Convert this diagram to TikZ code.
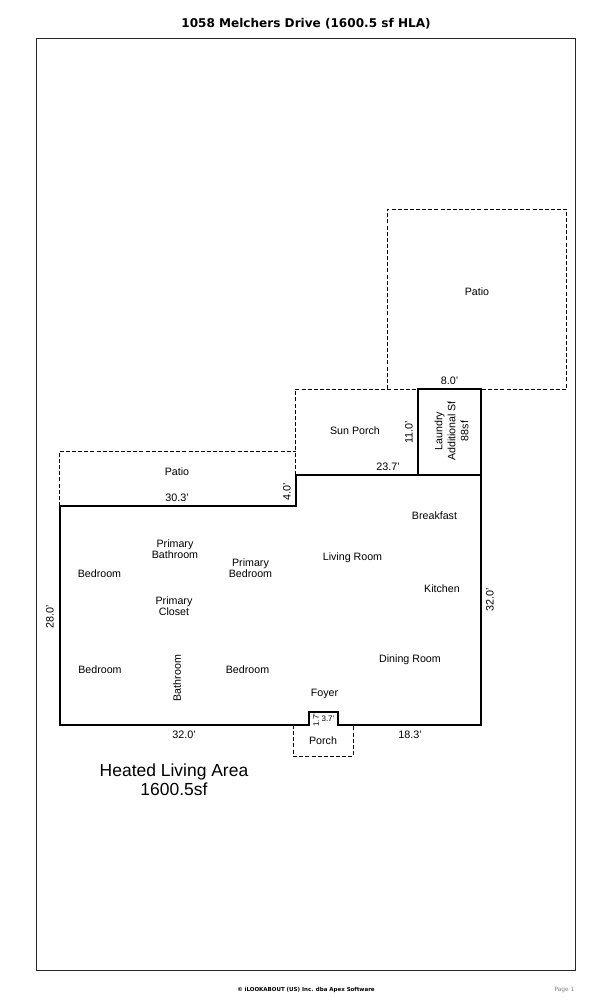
\documentclass[tikz,border=0pt]{standalone}
\usepackage{fontspec}
\setmainfont{Liberation Sans}
\newfontfamily\titlefont{DejaVu Sans}
\tikzset{every picture/.style={line width=0.75pt}}
\tikzset{
  wall/.style={line width=2.2pt,line join=miter},
  dashwall/.style={line width=0.75pt,dash pattern=on 3pt off 1.6pt},
  room/.style={font=\fontsize{8pt}{8.25pt}\selectfont,align=center,inner sep=0pt},
  dim/.style={font=\fontsize{8.1pt}{9pt}\selectfont,align=center,inner sep=0pt},
}
\begin{document}
\begin{tikzpicture}[x=0.75pt,y=0.75pt,yscale=-1,xscale=1]
	\useasboundingbox (0,0) rectangle (612,1008);

	%Sheet frame
	\draw [color={rgb, 255:red, 40; green, 40; blue, 40 }] (36.5,38) rectangle (575.5,970) ;

	%Dashed outlines
	\draw [dashwall] (387.5,389) -- (387.5,209) -- (566.5,209) -- (566.5,389) -- (481,389) ;
	\draw [dashwall] (295.5,475) -- (295.5,389) -- (418,389) ;
	\draw [dashwall] (59.5,506) -- (59.5,451) -- (295.5,451) ;
	\draw [dashwall] (293.5,725) -- (293.5,756) -- (353.5,756) -- (353.5,725) ;

	%Heated living area
	\draw [wall] (60,506) -- (296,506) -- (296,475) -- (481,475) -- (481,725) -- (338,725) -- (338,712) -- (309,712) -- (309,725) -- (60,725) -- cycle ;
	%Laundry
	\draw [wall] (418,475) -- (418,389) -- (481,389) -- (481,475) ;

	% Text Node
	\node [font=\titlefont\bfseries\fontsize{9.05pt}{11pt}\selectfont,inner sep=0pt] (title) at (306,23.7) {1058 Melchers Drive (1600.5 sf HLA)};
	\node [room] (patioA) at (477,292) {Patio};
	\node [room] (patioB) at (177,472) {Patio};
	\node [room] (sunporch) at (355,431) {Sun Porch};
	\node [room,rotate=90,font=\fontsize{8pt}{9.75pt}\selectfont] (laundry) at (451.5,431) {Laundry\\Additional Sf\\88sf};
	\node [room] (breakfast) at (434.5,516) {Breakfast};
	\node [room] (primarybath) at (175,549) {Primary\\Bathroom};
	\node [room] (primarybed) at (250.5,568) {Primary\\Bedroom};
	\node [room] (living) at (352.5,557.5) {Living Room};
	\node [room] (bedroomA) at (99.5,574) {Bedroom};
	\node [room] (kitchen) at (442,589) {Kitchen};
	\node [room] (closet) at (174,606) {Primary\\Closet};
	\node [room] (dining) at (410,659.5) {Dining Room};
	\node [room] (bedroomB) at (100,670) {Bedroom};
	\node [room] (bedroomC) at (247.5,670) {Bedroom};
	\node [room,rotate=90] (bathroom) at (177,678) {Bathroom};
	\node [room] (foyer) at (324.5,693.5) {Foyer};
	\node [room] (porch) at (323,741) {Porch};

	\node [dim] (dimA) at (449.5,380.5) {8.0'};
	\node [dim,rotate=90] (dimB) at (409,432) {11.0'};
	\node [dim] (dimC) at (388,466.5) {23.7'};
	\node [dim] (dimD) at (177,497.5) {30.3'};
	\node [dim,rotate=90] (dimE) at (287,492) {4.0'};
	\node [dim,rotate=90] (dimF) at (490,600) {32.0'};
	\node [dim,rotate=90] (dimG) at (50,617) {28.0'};
	\node [dim] (dimH) at (184,734.5) {32.0'};
	\node [dim] (dimI) at (410,734.5) {18.3'};
	\node [dim,font=\fontsize{6pt}{7pt}\selectfont] (dimJ) at (328,718.5) {3.7'};
	\node [dim,font=\fontsize{6pt}{7pt}\selectfont,rotate=90] (dimK) at (316,720) {1.7'};

	\node [font=\fontsize{13.1pt}{14.2pt}\selectfont,align=center,inner sep=0pt] (hla) at (174,779.5) {Heated Living Area\\1600.5sf};

	\node [font=\titlefont\bfseries\fontsize{4.12pt}{6pt}\selectfont,inner sep=0pt] (copyright) at (306,989.5) {© iLOOKABOUT (US) Inc. dba Apex Software};
	\node [font=\titlefont\fontsize{4.4pt}{6pt}\selectfont,text=gray,inner sep=0pt] (pagenum) at (564.5,989.5) {Page 1};
\end{tikzpicture}
\end{document}
